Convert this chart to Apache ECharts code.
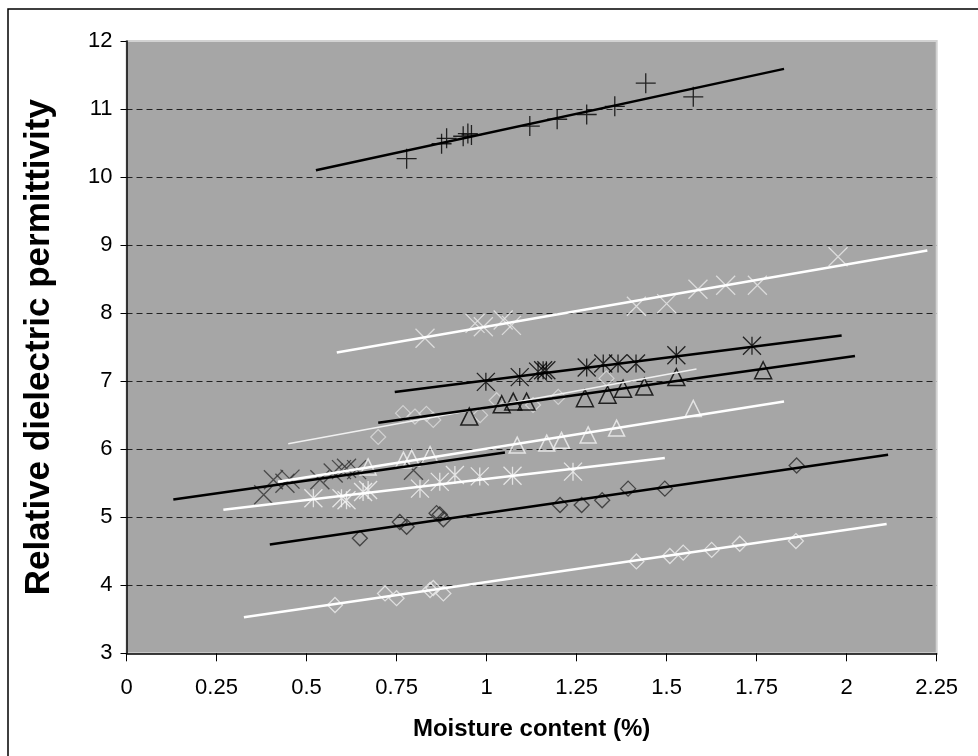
<!DOCTYPE html>
<html>
<head>
<meta charset="utf-8">
<script src="https://cdn.jsdelivr.net/npm/echarts@6/dist/echarts.min.js"></script>
<style>
html, body { margin: 0; padding: 0; background: #fff; }
#chart { width: 978px; height: 756px; }
</style>
</head>
<body>
<div id="chart"></div>
<script>
// points: [moisture %, permittivity]
var plusPts = [[0.778, 10.27], [0.875, 10.49], [0.889, 10.57], [0.935, 10.60], [0.948, 10.64], [0.958, 10.62],
    [1.120, 10.75], [1.196, 10.85], [1.278, 10.92], [1.356, 11.04], [1.442, 11.38], [1.574, 11.18]];
var plusLine = [[0.526, 10.10], [1.826, 11.59]];

var crossWhitePts = [[0.829, 7.63], [0.968, 7.85], [0.991, 7.80], [1.046, 7.90], [1.069, 7.82], [1.416, 8.10],
    [1.500, 8.14], [1.587, 8.35], [1.664, 8.41], [1.752, 8.41], [1.976, 8.83]];
var crossWhiteLine = [[0.584, 7.42], [2.224, 8.92]];

var starBlackPts = [[0.998, 6.99], [1.092, 7.06], [1.143, 7.14], [1.157, 7.16], [1.166, 7.16], [1.278, 7.20],
    [1.324, 7.26], [1.365, 7.26], [1.415, 7.26], [1.527, 7.38], [1.737, 7.52]];
var starBlackLine = [[0.745, 6.84], [1.986, 7.67]];

var triBlackPts = [[0.952, 6.48], [1.042, 6.66], [1.074, 6.70], [1.111, 6.70], [1.273, 6.75], [1.336, 6.80],
    [1.379, 6.89], [1.438, 6.92], [1.527, 7.06], [1.768, 7.16]];
var triBlackLine = [[0.699, 6.39], [2.023, 7.37]];

var diamondLightPts = [[0.699, 6.18], [0.768, 6.53], [0.801, 6.48], [0.833, 6.52], [0.852, 6.43], [0.982, 6.50],
    [1.028, 6.72], [1.129, 6.65], [1.199, 6.77], [1.333, 7.04]];
var diamondLightLine = [[0.449, 6.08], [1.583, 7.18]];

var triWhitePts = [[0.671, 5.74], [0.769, 5.84], [0.792, 5.87], [0.843, 5.92], [1.085, 6.06], [1.167, 6.09],
    [1.208, 6.13], [1.282, 6.21], [1.361, 6.31], [1.574, 6.60]];
var triWhiteLine = [[0.421, 5.52], [1.826, 6.70]];

var crossDarkPts = [[0.381, 5.33], [0.408, 5.55], [0.440, 5.50], [0.454, 5.56], [0.537, 5.55], [0.574, 5.65],
    [0.597, 5.70], [0.611, 5.72], [0.639, 5.70], [0.797, 5.69]];
var crossDarkLine = [[0.130, 5.26], [1.051, 5.95]];

var starWhitePts = [[0.519, 5.28], [0.597, 5.28], [0.611, 5.25], [0.657, 5.37], [0.671, 5.40], [0.815, 5.42],
    [0.870, 5.52], [0.912, 5.62], [0.981, 5.60], [1.072, 5.61], [1.240, 5.67]];
var starWhiteLine = [[0.269, 5.11], [1.495, 5.87]];

var diamondDarkPts = [[0.648, 4.69], [0.759, 4.93], [0.778, 4.86], [0.861, 5.06], [0.870, 5.04], [0.880, 4.97],
    [1.204, 5.18], [1.264, 5.18], [1.321, 5.25], [1.393, 5.42], [1.495, 5.42], [1.861, 5.76]];
var diamondDarkLine = [[0.398, 4.60], [2.115, 5.92]];

var diamondWhitePts = [[0.579, 3.71], [0.718, 3.88], [0.750, 3.81], [0.843, 3.93], [0.852, 3.96], [0.880, 3.88],
    [1.416, 4.35], [1.509, 4.43], [1.546, 4.48], [1.625, 4.52], [1.703, 4.61], [1.859, 4.65]];
var diamondWhiteLine = [[0.326, 3.53], [2.111, 4.90]];

var PLUS = 'path://M10,0L10,20M0,10L20,10';
var CROSS = 'path://M0,0L20,20M20,0L0,20';
var STAR = 'path://M0,0L20,20M20,0L0,20M10,0L10,20';

var font = 'Liberation Sans, Arial, sans-serif';

function marks(name, data, symbol, size, color, width) {
    return {
        name: name,
        type: 'scatter',
        data: data,
        symbol: symbol,
        symbolSize: size,
        silent: true,
        itemStyle: { color: 'rgba(0,0,0,0)', borderColor: color, borderWidth: width }
    };
}

function trend(name, data, color, width) {
    return {
        name: name,
        type: 'line',
        data: data,
        symbol: 'none',
        silent: true,
        lineStyle: { color: color, width: width }
    };
}

var chart = echarts.init(document.getElementById('chart'));
chart.setOption({
    animation: false,
    backgroundColor: '#fff',
    grid: {
        left: 126.5, right: 41.3, top: 41, bottom: 102.7,
        show: true,
        backgroundColor: '#a6a6a6',
        borderColor: '#d2d2d2',
        borderWidth: 2
    },
    xAxis: {
        type: 'value',
        min: 0, max: 2.25, interval: 0.25,
        name: 'Moisture content (%)',
        nameLocation: 'middle',
        nameGap: 64,
        nameTextStyle: { fontSize: 24, fontWeight: 'bold', color: '#000', fontFamily: font },
        axisLine: { show: true, lineStyle: { color: '#000', width: 1.5 } },
        axisTick: { show: true, length: 8, lineStyle: { color: '#000', width: 1 } },
        axisLabel: { fontSize: 22, color: '#000', margin: 24, fontFamily: font },
        splitLine: { show: false }
    },
    yAxis: {
        type: 'value',
        min: 3, max: 12, interval: 1,
        name: 'Relative dielectric permittivity',
        nameLocation: 'middle',
        nameGap: 70,
        nameTextStyle: { fontSize: 35, fontWeight: 'bold', color: '#000', fontFamily: font },
        axisLine: { show: true, lineStyle: { color: '#000', width: 1.5 } },
        axisTick: { show: true, length: 6, lineStyle: { color: '#000', width: 1 } },
        axisLabel: { fontSize: 22, color: '#000', margin: 14, fontFamily: font },
        splitLine: {
            show: true, showMinLine: false, showMaxLine: false,
            lineStyle: { color: '#222', width: 1, type: [6, 4] }
        }
    },
    graphic: [{
        type: 'rect',
        silent: true,
        shape: { x: 8, y: 9, width: 1100, height: 900 },
        style: { fill: 'none', stroke: '#000', lineWidth: 1.5 }
    }],
    series: [
        marks('diamondWhite', diamondWhitePts, 'diamond', 15, '#ececec', 1.3),
        trend('diamondWhiteFit', diamondWhiteLine, '#fff', 2.5),
        marks('diamondDark', diamondDarkPts, 'diamond', 15, '#2a2a2a', 1.3),
        trend('diamondDarkFit', diamondDarkLine, '#000', 2.5),
        marks('starWhite', starWhitePts, STAR, 18, '#f5f5f5', 1.3),
        trend('starWhiteFit', starWhiteLine, '#fff', 2.5),
        marks('crossDark', crossDarkPts, CROSS, 19, '#333', 1.3),
        trend('crossDarkFit', crossDarkLine, '#000', 2.5),
        marks('triWhite', triWhitePts, 'triangle', 16, '#f2f2f2', 1.5),
        trend('triWhiteFit', triWhiteLine, '#fff', 2.5),
        marks('diamondLight', diamondLightPts, 'diamond', 15, '#dcdcdc', 1.2),
        trend('diamondLightFit', diamondLightLine, '#f0f0f0', 1.5),
        marks('triBlack', triBlackPts, 'triangle', 17, '#000', 1.5),
        trend('triBlackFit', triBlackLine, '#000', 2.5),
        marks('starBlack', starBlackPts, STAR, 18, '#000', 1.3),
        trend('starBlackFit', starBlackLine, '#000', 2.5),
        marks('crossWhite', crossWhitePts, CROSS, 19, '#e8e8e8', 1.3),
        trend('crossWhiteFit', crossWhiteLine, '#fff', 2.5),
        marks('plus', plusPts, PLUS, 20, '#000', 1.3),
        trend('plusFit', plusLine, '#000', 2.5)
    ]
});
</script>
</body>
</html>
